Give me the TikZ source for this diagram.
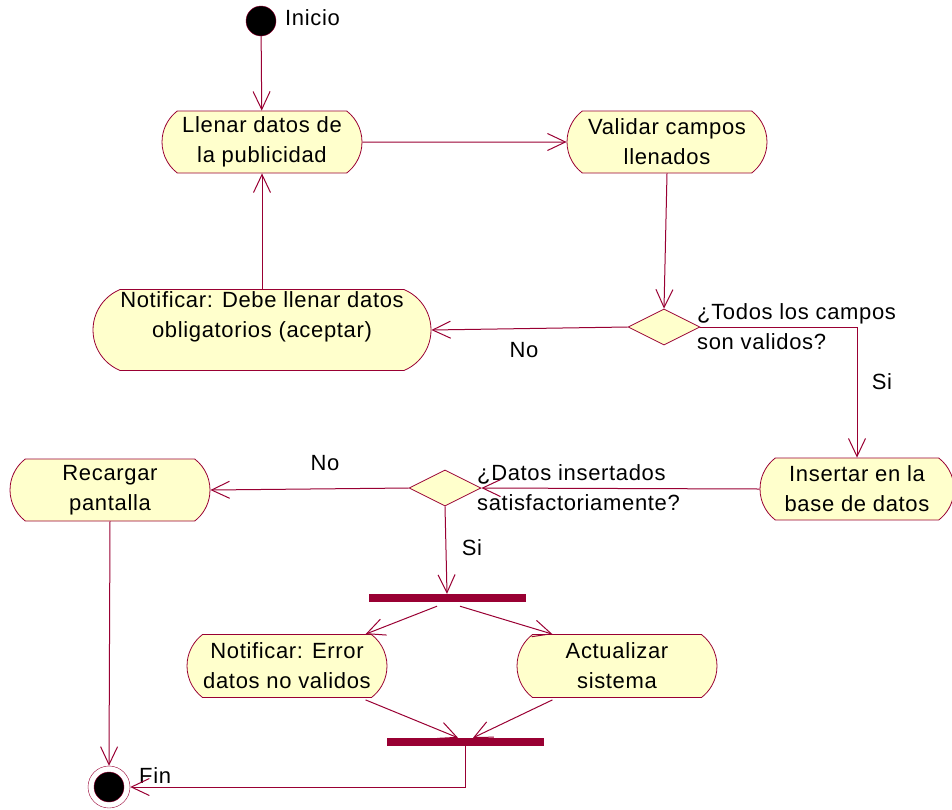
\documentclass[tikz,border=0pt]{standalone}
\usepackage{fontspec}
\setmainfont[LetterSpace=3]{Liberation Sans}
\usetikzlibrary{arrows.meta,calc,positioning,shapes.geometric,shapes.misc}
\definecolor{Wine}{HTML}{990033}
\definecolor{Cream}{HTML}{FFFFCC}
\tikzset{act/.style={rounded rectangle,rounded rectangle arc length=105,draw=Wine,fill=Cream,line width=.8pt,minimum height=62pt,minimum width=200pt,align=center,inner sep=0pt},decision/.style={diamond,draw=Wine,fill=Cream,line width=.8pt,minimum width=72pt,minimum height=36pt,inner sep=0pt},bar/.style={rectangle,fill=Wine,minimum width=157pt,minimum height=8pt,inner sep=0pt},flow/.style={-{Straight Barb[length=18pt,width=17pt]},line width=1pt,draw=Wine},start/.style={circle,fill=black,draw=Wine,minimum size=30pt,inner sep=0pt},stop/.style={circle,fill=white,draw=Wine,minimum size=42pt,inner sep=0pt,path picture={\fill[black,draw=Wine] (path picture bounding box.center) circle (15pt);}},tag/.style={inner sep=0pt,align=left}}

\begin{document}
\begin{tikzpicture}[x=1pt,y=-1pt,every node/.style={font=\fontsize{22}{30}\selectfont}]
      \useasboundingbox (0,0) rectangle (952,809);
      \node[start](ini) at (261,21){};
      \node[tag,anchor=west] at (285,18){Inicio};
      \node[act](llenar) at (262,142){Llenar datos de\\la publicidad};
      \node[act](validar) at (667,142){Validar campos\\llenados};
      \node[act,minimum height=81pt,minimum width=338pt,rounded rectangle arc length=135](avisar) at (262,330){Notificar: Debe llenar datos\\obligatorios (aceptar)\\\mbox{}};
      \node[decision](campos) at (664,327){};
      \node[tag,anchor=west] at (697,327){¿Todos los campos\\son validos?};
      \node[act,minimum width=194pt](insertar) at (857,489){Insertar en la\\base de datos};
      \node[decision](insertado) at (445,488){};
      \node[tag,anchor=west] at (477,488){¿Datos insertados\\satisfactoriamente?};
      \node[act](recargar) at (110,490){Recargar\\pantalla};
      \node[bar](fork) at (447,598){};
      \node[act,minimum height=63pt](error) at (287,666){Notificar: Error\\datos no validos};
      \node[act,minimum height=63pt](actual) at (617,666){Actualizar\\sistema};
      \node[bar](join) at (465,742){};
      \node[stop](fin) at (109,787){};
      \node[tag,anchor=west] at (139,776){Fin};
      \draw[flow](ini)--(llenar);
      \draw[flow](llenar)--(validar);
      \draw[flow](validar.south)--(campos.north);
      \draw[flow](campos.west)--(avisar.east);\node[tag] at (524,350){No};
      \draw[flow](avisar.north)--(llenar.south);
      \draw[flow](campos.east)-|(insertar.north);\node[tag] at (882,382){Si};
      \draw[flow](insertar.west)--(insertado.east);
      \draw[flow](insertado.west)--(recargar.east);\node[tag] at (325,463){No};
      \draw[flow](insertado.south)--(fork.north);\node[tag] at (472,548){Si};
      \draw[flow]($(fork.south)+(-10,4)$)--($(error.north east)+(-6,0)$);
      \draw[flow]($(fork.south)+(13,4)$)--($(actual.north west)+(20,0)$);
      \draw[flow]($(error.south east)+(-6,2)$)--($(join.north)+(-7,0)$);
      \draw[flow]($(actual.south west)+(20,2)$)--($(join.north)+(8,0)$);
      \draw[flow](join.south)|-(fin.east);
      \draw[flow](recargar.south)--(fin.north);
    \end{tikzpicture}
\end{document}
